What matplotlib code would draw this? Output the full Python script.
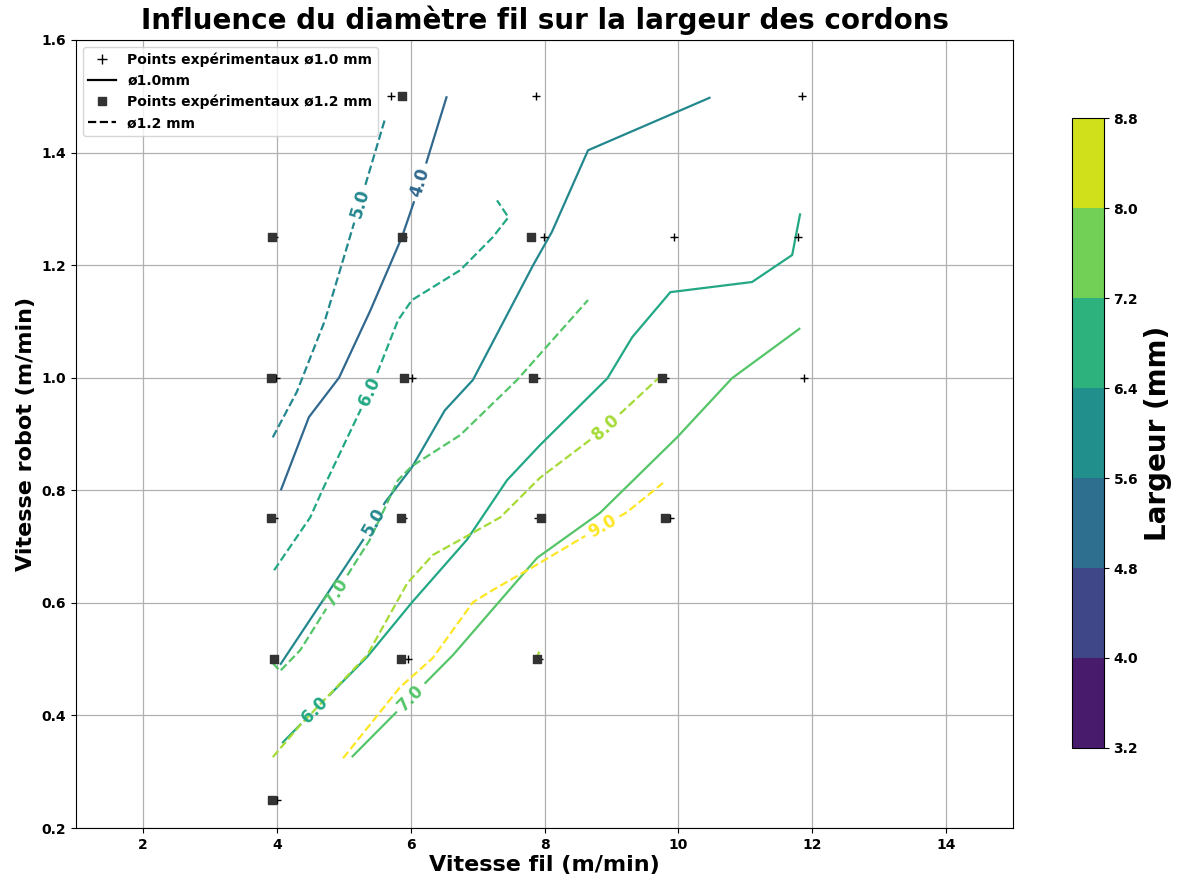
import numpy as np
import matplotlib
matplotlib.use("Agg")
import matplotlib.pyplot as plt
from matplotlib.contour import ContourSet
from matplotlib.colors import Normalize, BoundaryNorm, ListedColormap
from matplotlib.lines import Line2D
import matplotlib.cm as cm

plt.rcParams['font.weight'] = 'bold'
plt.rcParams['axes.labelweight'] = 'bold'
plt.rcParams['axes.titleweight'] = 'bold'

# essais fil 1.0 mm
vf_10 = [5.71, 7.87, 11.84,
         3.96, 5.88, 7.99, 9.94, 11.78,
         3.99, 6.02, 7.87, 9.80, 11.88,
         3.96, 5.89, 7.90, 9.88,
         3.96, 5.96, 7.91,
         4.00]
vr_10 = [1.5, 1.5, 1.5,
         1.25, 1.25, 1.25, 1.25, 1.25,
         1.0, 1.0, 1.0, 1.0, 1.0,
         0.75, 0.75, 0.75, 0.75,
         0.5, 0.5, 0.5,
         0.25]

# essais fil 1.2 mm
vf_12 = [5.87,
         3.93, 5.87, 7.80,
         3.91, 5.90, 7.83, 9.76,
         3.91, 5.86, 7.95, 9.80,
         3.96, 5.86, 7.89,
         3.93]
vr_12 = [1.5,
         1.25, 1.25, 1.25,
         1.0, 1.0, 1.0, 1.0,
         0.75, 0.75, 0.75, 0.75,
         0.5, 0.5, 0.5,
         0.25]

# iso-largeurs fil 1.0 mm (vitesse fil, vitesse robot)
niveaux_10 = [4.0, 5.0, 6.0, 7.0]
iso_10 = [
    [[(4.06, 0.80), (4.48, 0.93), (4.93, 1.00), (5.40, 1.12), (5.87, 1.25), (6.10, 1.33), (6.54, 1.50)]],
    [[(4.05, 0.49), (5.29, 0.712), (5.62, 0.779), (6.02, 0.841), (6.51, 0.942), (6.93, 0.996),
      (7.83, 1.20), (8.11, 1.259), (8.65, 1.404), (10.48, 1.498)]],
    [[(4.08, 0.351), (5.35, 0.504), (6.02, 0.601), (6.84, 0.712), (7.44, 0.818), (7.93, 0.880),
      (8.94, 0.999), (9.31, 1.072), (9.88, 1.152), (11.10, 1.170), (11.70, 1.218), (11.82, 1.292)]],
    [[(5.12, 0.326), (6.63, 0.507), (7.89, 0.680), (8.83, 0.760), (9.98, 0.894), (10.80, 0.999),
      (11.82, 1.088)]],
]
etiq_10 = [(6.14, 1.347), (5.44, 0.744), (4.53, 0.415), (5.99, 0.433)]

# iso-largeurs fil 1.2 mm
niveaux_12 = [5.0, 6.0, 7.0, 8.0, 9.0]
iso_12 = [
    [[(3.94, 0.894), (4.30, 0.975), (4.72, 1.102), (4.99, 1.209), (5.62, 1.461)]],
    [[(3.96, 0.658), (4.50, 0.752), (4.68, 0.800), (5.44, 0.990), (5.81, 1.102), (6.02, 1.138),
      (6.74, 1.191), (7.23, 1.250), (7.46, 1.285), (7.29, 1.315)]],
    [[(3.94, 0.493), (4.05, 0.479), (4.35, 0.516), (4.90, 0.620), (5.39, 0.712), (5.81, 0.818),
      (6.02, 0.843), (6.74, 0.898), (7.59, 0.996), (8.65, 1.138)]],
    [[(3.94, 0.326), (4.35, 0.383), (5.35, 0.507), (5.95, 0.635), (6.33, 0.685), (6.74, 0.712),
      (7.34, 0.752), (7.93, 0.822), (8.83, 0.903), (9.70, 0.999)],
     [(7.87, 0.500), (7.93, 0.515)]],
    [[(4.99, 0.324), (5.84, 0.450), (6.33, 0.502), (6.93, 0.601), (7.23, 0.623), (7.83, 0.664),
      (8.58, 0.717), (9.23, 0.761), (9.77, 0.813)]],
]
etiq_12 = [(5.27, 1.308), (5.35, 0.978), (4.90, 0.619), (8.88, 0.916), (8.88, 0.733)]

# barre de couleur
bornes_cb = [3.2, 4.0, 4.8, 5.6, 6.4, 7.2, 8.0, 8.8]

fig = plt.figure(figsize=(11.78, 8.84), dpi=100)
ax = fig.add_axes([0.0645, 0.0633, 0.7955, 0.8915])
ax.set_xlim(1, 15)
ax.set_ylim(0.2, 1.6)
ax.grid(True, color='#b0b0b0', linewidth=0.9)
ax.set_axisbelow(True)

norm_iso = Normalize(1.5, 9.0)

cs10 = ContourSet(ax, niveaux_10, [[np.array(s) for s in segs] for segs in iso_10],
                  cmap='viridis', norm=norm_iso, linestyles='solid', linewidths=1.6)
cs12 = ContourSet(ax, niveaux_12, [[np.array(s) for s in segs] for segs in iso_12],
                  cmap='viridis', norm=norm_iso, linestyles='dashed', linewidths=1.6)
ax.set_xlim(1, 15)
ax.set_ylim(0.2, 1.6)

ax.scatter(vf_10, vr_10, marker='+', s=40, color='black', linewidths=1.0, zorder=3)
ax.scatter(vf_12, vr_12, marker='s', s=40, color='#333333', zorder=3)

ax.clabel(cs10, inline=True, fontsize=12, fmt='%.1f', manual=etiq_10)
ax.clabel(cs12, inline=True, fontsize=12, fmt='%.1f', manual=etiq_12)

ax.set_xticks([2, 4, 6, 8, 10, 12, 14])
ax.set_yticks([0.2, 0.4, 0.6, 0.8, 1.0, 1.2, 1.4, 1.6])
ax.tick_params(labelsize=10)
ax.set_xlabel('Vitesse fil (m/min)', fontsize=16, labelpad=2)
ax.set_ylabel('Vitesse robot (m/min)', fontsize=16)
ax.set_title('Influence du diamètre fil sur la largeur des cordons', fontsize=20, pad=8)

poignees = [
    Line2D([], [], marker='+', color='black', linestyle='none', markersize=7),
    Line2D([], [], color='black', linestyle='-', linewidth=1.6),
    Line2D([], [], marker='s', color='#333333', linestyle='none', markersize=6),
    Line2D([], [], color='black', linestyle='--', linewidth=1.6),
]
textes = ['Points expérimentaux ø1.0 mm', 'ø1.0mm', 'Points expérimentaux ø1.2 mm', 'ø1.2 mm']
ax.legend(poignees, textes, loc='upper left', fontsize=10)

milieux = [(a + b) / 2 for a, b in zip(bornes_cb[:-1], bornes_cb[1:])]
couleurs = plt.get_cmap('viridis')([(m - bornes_cb[0]) / (bornes_cb[-1] - bornes_cb[0]) for m in milieux])
sm = cm.ScalarMappable(norm=BoundaryNorm(bornes_cb, len(milieux)), cmap=ListedColormap(couleurs))
cax = fig.add_axes([0.910, 0.154, 0.027, 0.712])
cb = fig.colorbar(sm, cax=cax, ticks=bornes_cb)
cb.ax.tick_params(labelsize=10)
cb.set_label('Largeur (mm)', fontsize=20)

fig.savefig('out.png', dpi=100)
